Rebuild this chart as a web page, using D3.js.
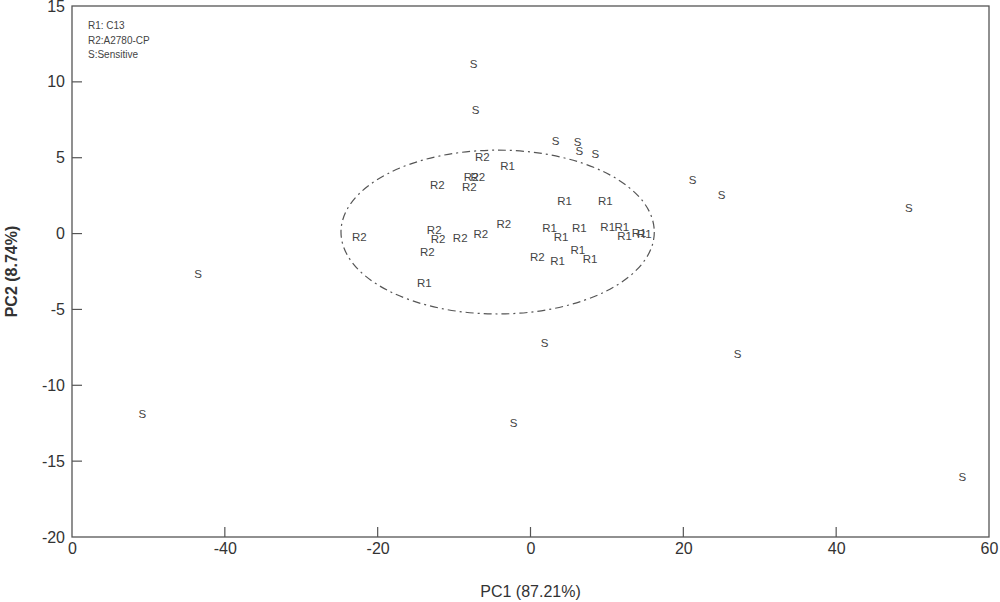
<!DOCTYPE html>
<html><head><meta charset="utf-8">
<script src="https://cdn.jsdelivr.net/npm/d3@7"></script>
<style>body{margin:0;background:#fff;}svg{display:block;font-family:"Liberation Sans",Arial,sans-serif;}</style>
</head><body>
<script>
const xTickValues = [-60, -40, -20, 0, 20, 40, 60];
const xTickLabels = ["0", "-40", "-20", "0", "20", "40", "60"];
const yTickValues = [15, 10, 5, 0, -5, -10, -15, -20];
const yTickLabels = ["15", "10", "5", "0", "-5", "-10", "-15", "-20"];
const legendLines = ["R1: C13", "R2:A2780-CP", "S:Sensitive"];
const sensitivePts = [[-7.46,11.18],[-7.2,8.15],[3.27,6.1],[6.15,6.04],[6.4,5.45],[8.5,5.25],[21.2,3.53],[25.0,2.54],[49.5,1.69],[-43.5,-2.66],[1.83,-7.2],[27.1,-7.94],[-50.8,-11.9],[-2.2,-12.5],[56.5,-16.04]];
const r1Pts = [[-3.0,4.46],[4.45,2.15],[9.8,2.15],[2.5,0.35],[4.0,-0.2],[6.4,0.35],[10.1,0.45],[11.95,0.45],[12.3,-0.14],[14.2,0.02],[14.9,-0.05],[6.2,-1.08],[3.55,-1.8],[7.8,-1.7],[-13.9,-3.26]];
const r2Pts = [[-6.3,5.04],[-7.76,3.75],[-6.9,3.75],[-12.2,3.2],[-8.0,3.07],[-22.4,-0.22],[-12.6,0.24],[-12.1,-0.38],[-9.2,-0.29],[-6.5,0.0],[-3.5,0.63],[-13.5,-1.2],[0.9,-1.54]];
const ellipse = [{cx:-4.3, cy:0.1, rx:20.5, ry:5.4}];

const W = 1000, H = 602;
const m = {l:72, r:11, t:6, b:65};
const svg = d3.select("body").append("svg").attr("width", W).attr("height", H);
const x = d3.scaleLinear().domain([-60, 60]).range([m.l, W - m.r]);
const y = d3.scaleLinear().domain([-20, 15]).range([H - m.b, m.t]);
const col = "#555";

// frame
svg.append("rect").attr("x", x(-60)).attr("y", y(15)).attr("width", x(60)-x(-60)).attr("height", y(-20)-y(15))
  .attr("fill","none").attr("stroke", col).attr("stroke-width",1.3);

// axes
const xAxis = d3.axisBottom(x).tickValues(xTickValues).tickSize(0).tickPadding(6)
  .tickFormat((d,i)=>xTickLabels[i]);
const gx = svg.append("g").attr("transform", `translate(0,${y(-20)})`).call(xAxis);
gx.select(".domain").remove();
gx.selectAll("text").attr("font-size",16).attr("fill","#333").attr("font-family","Liberation Sans, Arial, sans-serif");
svg.append("g").selectAll("line").data(xTickValues.filter(v=>v>-60 && v<60)).join("line")
  .attr("x1",d=>x(d)).attr("x2",d=>x(d)).attr("y1",y(-20)).attr("y2",y(-20)-10).attr("stroke",col).attr("stroke-width",1.2);

const yAxis = d3.axisLeft(y).tickValues(yTickValues).tickSize(0).tickPadding(7)
  .tickFormat((d,i)=>yTickLabels[i]);
const gy = svg.append("g").attr("transform", `translate(${x(-60)},0)`).call(yAxis);
gy.select(".domain").remove();
gy.selectAll("text").attr("font-size",16).attr("fill","#333").attr("font-family","Liberation Sans, Arial, sans-serif");
svg.append("g").selectAll("line").data(yTickValues.filter(v=>v>-20 && v<15)).join("line")
  .attr("x1",x(-60)).attr("x2",x(-60)+10).attr("y1",d=>y(d)).attr("y2",d=>y(d)).attr("stroke",col).attr("stroke-width",1.2);

// axis titles
svg.append("text").attr("x",(x(-60)+x(60))/2).attr("y",597).attr("text-anchor","middle")
  .attr("font-size",16).attr("fill","#333").text("PC1 (87.21%)");
svg.append("text").attr("transform",`translate(17,${(y(15)+y(-20))/2}) rotate(-90)`).attr("text-anchor","middle")
  .attr("font-size",16).attr("font-weight","bold").attr("fill","#333").text("PC2 (8.74%)");

// legend
svg.append("g").selectAll("text").data(legendLines).join("text")
  .attr("x",88).attr("y",(d,i)=>29+i*14.5).attr("font-size",10).attr("fill","#444").text(d=>d);

// ellipse
svg.selectAll(".ell").data(ellipse).join("ellipse")
  .attr("cx",d=>x(d.cx)).attr("cy",d=>y(d.cy))
  .attr("rx",d=>x(d.cx+d.rx)-x(d.cx)).attr("ry",d=>y(d.cy-d.ry)-y(d.cy))
  .attr("fill","none").attr("stroke","#555").attr("stroke-width",1.2).attr("stroke-dasharray","8,4,2,4");

// point labels
function drawLabels(pts, lab){
  svg.append("g").selectAll("text").data(pts).join("text")
    .attr("x",d=>x(d[0])).attr("y",d=>y(d[1])).attr("dy","0.35em").attr("text-anchor","middle")
    .attr("font-size",11.5).attr("fill","#444").text(lab);
}
drawLabels(sensitivePts,"S");
drawLabels(r1Pts,"R1");
drawLabels(r2Pts,"R2");
</script>
</body></html>
